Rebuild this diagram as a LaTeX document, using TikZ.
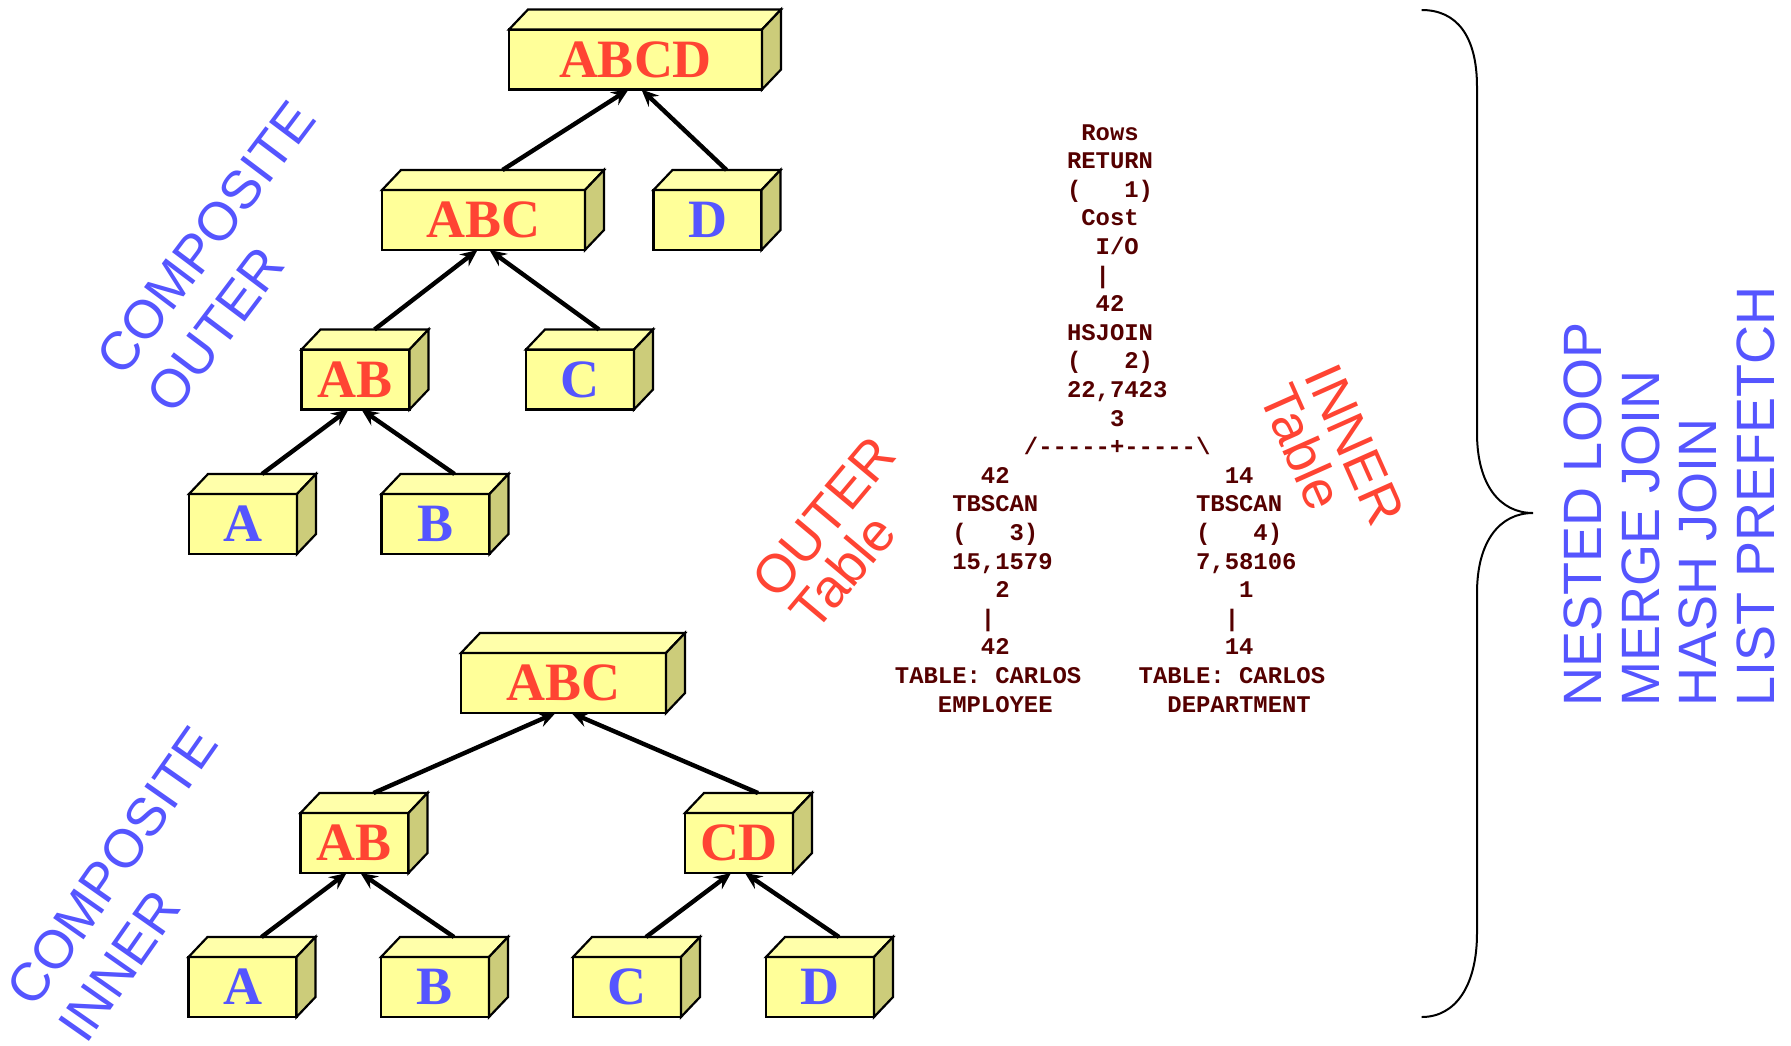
\documentclass[tikz,border=0pt]{standalone}
\usepackage{fontspec}
\setmainfont{Liberation Sans}
\newfontfamily\boxfont{Liberation Serif}
\newfontfamily\planfont{Liberation Mono}
\usetikzlibrary{arrows.meta}
\definecolor{bluec}{RGB}{85,85,255}
\definecolor{redc}{RGB}{255,68,51}
\definecolor{planc}{RGB}{85,0,0}
\definecolor{frontc}{RGB}{255,255,153}
\definecolor{topc}{RGB}{255,255,170}
\definecolor{sidec}{RGB}{204,204,122}
\newlength\cw
\setlength\cw{14.342pt}
\newcommand\hy{\mbox{-}}
\newcommand\facesof[1]{%
  \filldraw[facetop] (#1.north west) -- ++(19,-20) -- ([shift={(19,-20)}]#1.north east) -- (#1.north east) -- cycle;
  \filldraw[faceside] (#1.north east) -- ++(19,-20) -- ([shift={(19,-20)}]#1.south east) -- (#1.south east) -- cycle;}
\tikzset{
  boxfront/.style={draw, line width=2.2pt, fill=frontc, minimum width=108pt, minimum height=60pt,
    inner sep=0pt, outer sep=0pt, font=\boxfont\bfseries\fontsize{54}{60}\selectfont},
  comp/.style={boxfront, text=redc},
  single/.style={boxfront, text=bluec},
  facetop/.style={draw, line width=2.2pt, fill=topc, line join=miter},
  faceside/.style={draw, line width=2.2pt, fill=sidec, line join=miter},
  arr/.style={line width=4.4pt, -{Stealth[length=17pt,width=15pt,inset=6pt]}},
  plan/.style={anchor=base west, inner sep=0pt, text=planc, font=\planfont\bfseries\fontsize{23.9}{28.6}\selectfont\frenchspacing},
  rotlab/.style={align=left, inner sep=0pt},
  joinlab/.style={rotate=90, anchor=base west, inner sep=0pt, text=bluec, font=\fontsize{54}{58}\selectfont},
}
\begin{document}
\begin{tikzpicture}[x=1pt,y=-1pt]
\useasboundingbox (0,0) rectangle (1791,1045);
\fill[white] (0,0) rectangle (1791,1045);

% ---------- top tree (composite outer) ----------
\node[comp, minimum width=253pt] (tABCD) at (635.5,59.5) {ABCD};
\node[comp, minimum width=203pt] (tABC) at (483.5,220) {ABC};
\node[single] (tD) at (707.5,220) {D};
\node[comp] (tAB) at (355.5,379.5) {AB};
\node[single] (tC) at (580,379.5) {C};
\node[single] (tA) at (243,524) {A};
\node[single] (tB) at (435.5,524) {B};
\foreach \n in {tABCD,tABC,tD,tAB,tC,tA,tB} {\facesof{\n}}

\draw[arr] ([shift={(19,-20)}]tABC.north) -- ([xshift=-7pt]tABCD.south);
\draw[arr] ([shift={(19,-20)}]tD.north) -- ([xshift=6pt]tABCD.south);
\draw[arr] ([shift={(19,-20)}]tAB.north) -- ([xshift=-6pt]tABC.south);
\draw[arr] ([shift={(19,-20)}]tC.north) -- ([xshift=6pt]tABC.south);
\draw[arr] ([shift={(19,-20)}]tA.north) -- ([xshift=-7pt]tAB.south);
\draw[arr] ([shift={(19,-20)}]tB.north) -- ([xshift=6pt]tAB.south);

% ---------- bottom tree (composite inner) ----------
\node[comp, minimum width=205pt] (bABC) at (563.5,683) {ABC};
\node[comp] (bAB) at (354.5,843) {AB};
\node[comp] (bCD) at (739,843) {CD};
\node[single] (bA) at (242.5,987) {A};
\node[single] (bB) at (435,987) {B};
\node[single] (bC) at (627,987) {C};
\node[single] (bD) at (820,987) {D};
\foreach \n in {bABC,bAB,bCD,bA,bB,bC,bD} {\facesof{\n}}

\draw[arr] ([shift={(19,-20)}]bAB.north) -- ([xshift=-8pt]bABC.south);
\draw[arr] ([shift={(19,-20)}]bCD.north) -- ([xshift=8pt]bABC.south);
\draw[arr] ([shift={(19,-20)}]bA.north) -- ([xshift=-8pt]bAB.south);
\draw[arr] ([shift={(19,-20)}]bB.north) -- ([xshift=6pt]bAB.south);
\draw[arr] ([shift={(19,-20)}]bC.north) -- ([xshift=-8pt]bCD.south);
\draw[arr] ([shift={(19,-20)}]bD.north) -- ([xshift=6pt]bCD.south);

% ---------- rotated labels ----------
\node[rotlab, rotate=53, text=bluec, font=\fontsize{54}{63}\selectfont] (lco) at (231,257) {COMPOSITE\\OUTER};
\node[rotlab, rotate=55, text=bluec, font=\fontsize{54}{63}\selectfont] (lci) at (138,884) {COMPOSITE\\INNER};
\node[rotlab, rotate=50, text=redc, font=\fontsize{54}{50}\selectfont] (lot) at (843,533) {OUTER\\Table};
\node[rotlab, rotate=-66, text=redc, font=\fontsize{54}{50}\selectfont] (lit) at (1332,455) {INNER\\Table};

% ---------- explain plan ----------
\node[plan] (p1) at (894.7,140.0) {\hspace*{13\cw}Rows};
\node[plan] (p2) at (894.7,168.6) {\hspace*{12\cw}RETURN};
\node[plan] (p3) at (894.7,197.2) {\hspace*{12\cw}(\hspace*{3\cw}1)};
\node[plan] (p4) at (894.7,225.8) {\hspace*{13\cw}Cost};
\node[plan] (p5) at (894.7,254.4) {\hspace*{14\cw}I/O};
\node[plan] (p6) at (894.7,283.0) {\hspace*{14\cw}|};
\node[plan] (p7) at (894.7,311.6) {\hspace*{14\cw}42};
\node[plan] (p8) at (894.7,340.2) {\hspace*{12\cw}HSJOIN};
\node[plan] (p9) at (894.7,368.8) {\hspace*{12\cw}(\hspace*{3\cw}2)};
\node[plan] (p10) at (894.7,397.4) {\hspace*{12\cw}22,7423};
\node[plan] (p11) at (894.7,426.0) {\hspace*{15\cw}3};
\node[plan] (p12) at (894.7,454.6) {\hspace*{9\cw}/\hy\hy\hy\hy\hy+\hy\hy\hy\hy\hy\textbackslash};
\node[plan] (p13) at (894.7,483.2) {\hspace*{6\cw}42\hspace*{15\cw}14};
\node[plan] (p14) at (894.7,511.8) {\hspace*{4\cw}TBSCAN\hspace*{11\cw}TBSCAN};
\node[plan] (p15) at (894.7,540.4) {\hspace*{4\cw}(\hspace*{3\cw}3)\hspace*{11\cw}(\hspace*{3\cw}4)};
\node[plan] (p16) at (894.7,569.0) {\hspace*{4\cw}15,1579\hspace*{10\cw}7,58106};
\node[plan] (p17) at (894.7,597.6) {\hspace*{7\cw}2\hspace*{16\cw}1};
\node[plan] (p18) at (894.7,626.2) {\hspace*{6\cw}|\hspace*{16\cw}|};
\node[plan] (p19) at (894.7,654.8) {\hspace*{6\cw}42\hspace*{15\cw}14};
\node[plan] (p20) at (894.7,683.4) {TABLE:\hspace*{\cw}CARLOS\hspace*{4\cw}TABLE:\hspace*{\cw}CARLOS};
\node[plan] (p21) at (894.7,712.0) {\hspace*{3\cw}EMPLOYEE\hspace*{8\cw}DEPARTMENT};

% ---------- brace ----------
\coordinate (brtop) at (1421.7,10);
\coordinate (brtip) at (1533,513);
\coordinate (brbot) at (1421.7,1017);
\draw[line width=2pt] (brtop) .. controls (1456,10) and (1477,35) .. (1477,87) -- (1477,433)
  .. controls (1477,485) and (1500,513) .. (brtip)
  .. controls (1500,513) and (1477,541) .. (1477,593) -- (1477,933)
  .. controls (1477,985) and (1456,1017) .. (brbot);

% ---------- join methods ----------
\node[joinlab] (j1) at (1601.7,707) {NESTED LOOP};
\node[joinlab] (j2) at (1659.3,707) {MERGE JOIN};
\node[joinlab] (j3) at (1716.7,707) {HASH JOIN};
\node[joinlab] (j4) at (1774,707) {LIST PREFETCH};
\end{tikzpicture}
\end{document}
